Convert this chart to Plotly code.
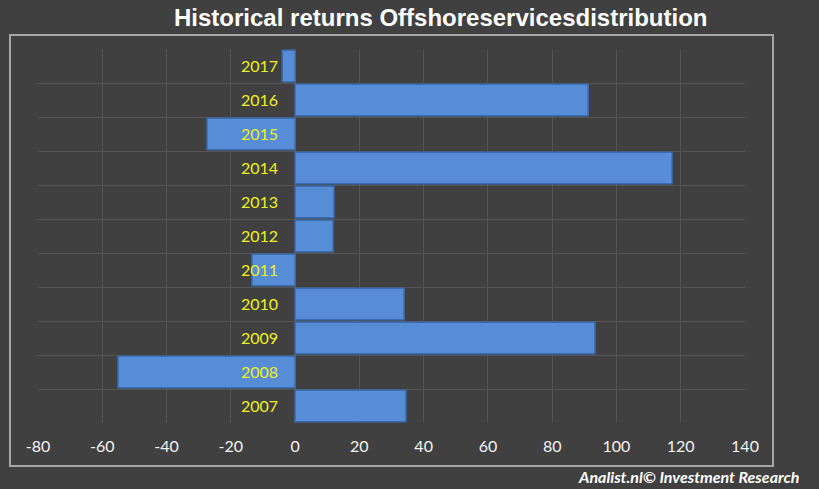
import plotly.graph_objects as go

years = [2007, 2008, 2009, 2010, 2011, 2012, 2013, 2014, 2015, 2016, 2017]
returns = [34.5, -55.1, 93.3, 33.9, -13.4, 11.8, 12.1, 117.3, -27.4, 91.2, -4.0]
x_ticks = [-80, -60, -40, -20, 0, 20, 40, 60, 80, 100, 120, 140]
title_text = "Historical returns Offshoreservicesdistribution"
footer_text = "Analist.nl© Investment Research"

BG = "#404040"
GRID = "#555555"

fig = go.Figure()
fig.add_trace(go.Bar(
    y=years, x=returns, orientation="h",
    marker=dict(color="#568DD6", line=dict(color="#3A6DB3", width=1.5)),
    hoverinfo="x+y",
))

fig.update_layout(
    width=819, height=489,
    paper_bgcolor=BG, plot_bgcolor=BG,
    margin=dict(l=38, r=74, t=49, b=66),
    showlegend=False,
    bargap=0.07,
    xaxis=dict(
        range=[-80, 140], tickvals=x_ticks, ticktext=[str(v) for v in x_ticks],
        showgrid=True, gridcolor=GRID, gridwidth=1,
        zeroline=False, showline=False,
        tickfont=dict(family="Lato", size=16, color="#f2f2f2"),
        ticks="", ticklabelstandoff=12,
    ),
    yaxis=dict(
        range=[2006.5, 2017.5], tickvals=years, ticktext=[str(y) for y in years],
        showgrid=False, zeroline=False, showline=False,
        anchor="free", position=80 / 220,
        ticks="", ticklabelstandoff=17,
        tickfont=dict(family="Lato", size=16, color="#f0f020"),
        minor=dict(tick0=2006.5, dtick=1, showgrid=True, gridcolor=GRID, gridwidth=1, ticks=""),
    ),
)

# outer chart-area border
fig.add_shape(type="rect", xref="paper", yref="paper",
              x0=(10 - 38) / 707, x1=(773 - 38) / 707,
              y0=(423 - 466) / 374, y1=(423 - 35) / 374,
              line=dict(color="#a6a6a6", width=2), fillcolor="rgba(0,0,0,0)", layer="below")

fig.add_annotation(text="<b>" + title_text + "</b>", xref="paper", yref="paper",
                   x=(440 - 38) / 707, y=(423 - 17) / 374, xanchor="center", yanchor="middle",
                   showarrow=False, font=dict(family="Liberation Sans", size=24, color="#ffffff"))

fig.add_annotation(text="<b><i>" + footer_text + "</i></b>", xref="paper", yref="paper",
                   x=(801 - 38) / 707, y=(423 - 477) / 374, xanchor="right", yanchor="middle",
                   showarrow=False, font=dict(family="Lato", size=16, color="#ffffff"))

fig.write_html("out.html", config={"displayModeBar": False},
               post_script="document.body.style.margin='0';document.body.style.overflow='hidden';")
